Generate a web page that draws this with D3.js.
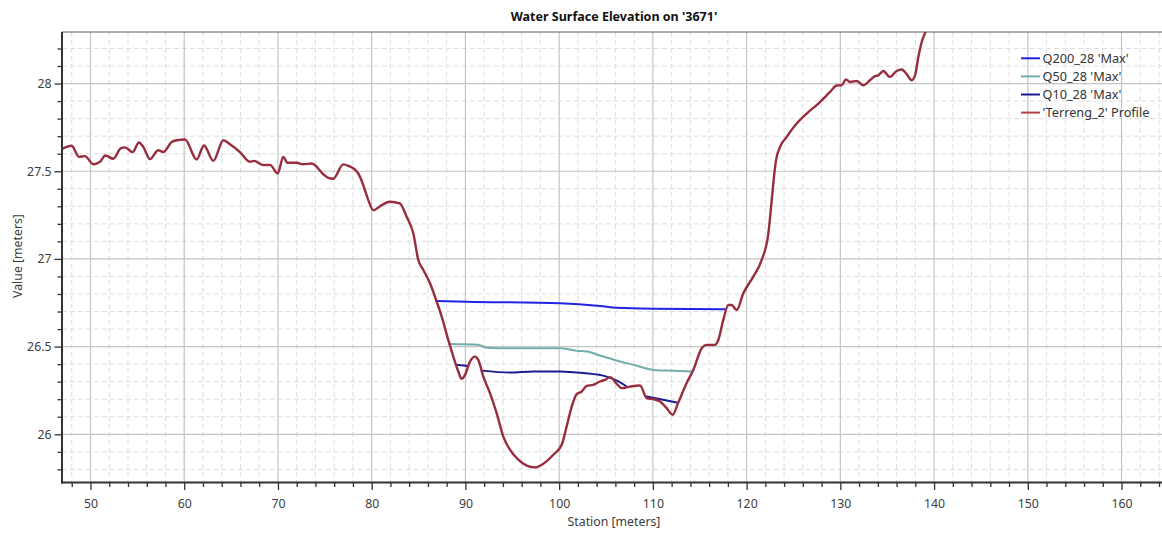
<!DOCTYPE html>
<html>
<head>
<meta charset="utf-8">
<script src="https://cdn.jsdelivr.net/npm/d3@7"></script>
<style>
  html, body { margin: 0; padding: 0; background: #ffffff; }
  svg { display: block; }
  text { font-family: "Noto Sans", "Open Sans", "DejaVu Sans", sans-serif; }
</style>
</head>
<body>
<div id="chart"></div>
<script>
// Cross-section 3671: ground profile and maximum water surface for three flows
const chartTitle = "Water Surface Elevation on '3671'";
const xLabel = "Station [meters]";
const yLabel = "Value [meters]";

const seriesNames = ["Q200_28 'Max'", "Q50_28 'Max'", "Q10_28 'Max'", "'Terreng_2' Profile"];
const seriesColors = ["#2323e6", "#72aeaa", "#1b1b92", "#972d3e"];
const legendColors = ["#2323e6", "#72aeaa", "#1b1b92", "#b5423f"];

const xTickValues = [50, 60, 70, 80, 90, 100, 110, 120, 130, 140, 150, 160];
const yTickValues = [26, 26.5, 27, 27.5, 28];

// Station / elevation pairs of the ground profile
const terrain = [
  [46.93, 27.626], [47.99, 27.645], [48.77, 27.582], [49.41, 27.586], [50.30, 27.540],
  [51.01, 27.554], [51.58, 27.590], [52.43, 27.571], [53.22, 27.630], [53.68, 27.636],
  [54.50, 27.609], [55.17, 27.664], [55.63, 27.639], [56.35, 27.569], [57.23, 27.620],
  [57.77, 27.610], [58.66, 27.667], [59.20, 27.677], [60.08, 27.681], [61.33, 27.567],
  [62.11, 27.647], [63.10, 27.559], [64.17, 27.677], [64.88, 27.654], [65.95, 27.609],
  [67.01, 27.554], [67.44, 27.559], [68.44, 27.535], [69.15, 27.536], [69.97, 27.487],
  [70.57, 27.582], [71.00, 27.548], [72.00, 27.548], [72.70, 27.540], [73.60, 27.544],
  [74.84, 27.483], [75.37, 27.462], [75.90, 27.457], [76.97, 27.539], [77.50, 27.531],
  [78.57, 27.487], [79.10, 27.421], [79.64, 27.335], [80.17, 27.278], [81.07, 27.307],
  [81.95, 27.326], [83.00, 27.317], [83.73, 27.240], [84.44, 27.146], [84.97, 26.994],
  [85.51, 26.937], [86.22, 26.861], [86.94, 26.756], [87.47, 26.671], [88.17, 26.538],
  [88.71, 26.443], [89.24, 26.358], [89.60, 26.316], [89.96, 26.339], [90.49, 26.415],
  [91.02, 26.443], [91.37, 26.424], [91.91, 26.329], [92.62, 26.235], [93.33, 26.121],
  [94.04, 25.987], [94.75, 25.912], [95.64, 25.855], [96.54, 25.821], [97.42, 25.811],
  [98.31, 25.832], [99.38, 25.883], [100.27, 25.940], [100.80, 26.044], [101.34, 26.158],
  [101.87, 26.229], [102.41, 26.244], [102.94, 26.276], [103.65, 26.282], [104.36, 26.301],
  [104.89, 26.310], [105.43, 26.326], [106.14, 26.288], [106.68, 26.263], [107.56, 26.272],
  [108.63, 26.278], [109.34, 26.206], [110.05, 26.200], [110.76, 26.187], [111.47, 26.149],
  [112.11, 26.111], [112.71, 26.181], [113.60, 26.292], [114.31, 26.367], [115.21, 26.491],
  [115.74, 26.510], [116.62, 26.510], [116.98, 26.538], [117.51, 26.652], [118.05, 26.737],
  [118.40, 26.737], [118.94, 26.709], [119.65, 26.804], [120.71, 26.899], [121.61, 26.994],
  [122.32, 27.146], [122.68, 27.335], [122.92, 27.468], [123.14, 27.563], [123.57, 27.639],
  [124.28, 27.696], [125.34, 27.772], [126.41, 27.829], [127.65, 27.886], [128.90, 27.952],
  [129.61, 27.989], [130.14, 27.990], [130.60, 28.024], [131.03, 28.009], [131.75, 28.015],
  [132.45, 27.990], [133.16, 28.019], [133.70, 28.042], [134.05, 28.047], [134.58, 28.072],
  [135.30, 28.038], [136.01, 28.072], [136.55, 28.080], [137.08, 28.053], [137.61, 28.019],
  [137.97, 28.047], [138.32, 28.151], [138.68, 28.237], [139.14, 28.300]
];

// Water surface lines (null elevation = dry gap in the wet section)
const q200 = [
  [86.86, 26.760], [90.14, 26.756], [100.09, 26.747], [104.36, 26.732],
  [106.14, 26.722], [110.05, 26.716], [117.72, 26.713]
];
const q50 = [
  [88.28, 26.515], [91.37, 26.510], [92.27, 26.494], [94.75, 26.491], [100.09, 26.491],
  [101.87, 26.476], [102.94, 26.472], [104.36, 26.449], [106.50, 26.415], [107.92, 26.396],
  [110.05, 26.367], [112.18, 26.362], [114.14, 26.358]
];
const q10 = [
  [88.99, 26.396], [90.31, 26.390], [91.0, null],
  [91.74, 26.363], [94.75, 26.352], [97.24, 26.358], [100.09, 26.358], [102.58, 26.349],
  [105.07, 26.329], [106.32, 26.301], [107.20, 26.272], [108.3, null],
  [109.34, 26.215], [112.54, 26.181]
];

const W = 1162, H = 533;
const plot = { left: 62, right: 1164, top: 32, bottom: 482.5 };

const x = d3.scaleLinear().domain([46.96, 164.53]).range([plot.left, plot.right]);
const y = d3.scaleLinear().domain([25.725, 28.294]).range([plot.bottom, plot.top]);

const svg = d3.select("#chart").append("svg")
  .attr("width", W).attr("height", H);

svg.append("defs").append("clipPath").attr("id", "plotClip")
  .append("rect")
  .attr("x", plot.left).attr("y", plot.top)
  .attr("width", plot.right - plot.left).attr("height", plot.bottom - plot.top);

// Grid: dashed minor lines, solid major lines
const xMinor = d3.range(48, 165, 2).filter(v => v % 10 !== 0);
const yMinor = d3.range(258, 283, 1).map(v => v / 10).filter(v => Math.abs(v * 2 - Math.round(v * 2)) > 1e-6);

const grid = svg.append("g").attr("clip-path", "url(#plotClip)");
grid.selectAll("line.xminor").data(xMinor).join("line")
  .attr("x1", d => x(d)).attr("x2", d => x(d))
  .attr("y1", plot.top).attr("y2", plot.bottom)
  .attr("stroke", "#dedede").attr("stroke-width", 1).attr("stroke-dasharray", "5,3");
grid.selectAll("line.yminor").data(yMinor).join("line")
  .attr("x1", plot.left).attr("x2", plot.right)
  .attr("y1", d => y(d)).attr("y2", d => y(d))
  .attr("stroke", "#dedede").attr("stroke-width", 1).attr("stroke-dasharray", "5,3");
grid.selectAll("line.xmajor").data(xTickValues).join("line")
  .attr("x1", d => x(d)).attr("x2", d => x(d))
  .attr("y1", plot.top).attr("y2", plot.bottom)
  .attr("stroke", "#c4c4c4").attr("stroke-width", 1.2);
grid.selectAll("line.ymajor").data(yTickValues).join("line")
  .attr("x1", plot.left).attr("x2", plot.right)
  .attr("y1", d => y(d)).attr("y2", d => y(d))
  .attr("stroke", "#c4c4c4").attr("stroke-width", 1.2);

// Data lines
const line = d3.line()
  .defined(d => d[1] !== null)
  .x(d => x(d[0])).y(d => y(d[1]))
  .curve(d3.curveMonotoneX);

const lines = svg.append("g").attr("clip-path", "url(#plotClip)");
[q200, q50, q10].forEach((data, i) => {
  lines.append("path").datum(data)
    .attr("fill", "none").attr("stroke", seriesColors[i])
    .attr("stroke-width", 2).attr("stroke-linejoin", "round").attr("stroke-linecap", "round")
    .attr("d", line);
});
lines.append("path").datum(terrain)
  .attr("fill", "none").attr("stroke", seriesColors[3])
  .attr("stroke-width", 2.4).attr("stroke-linejoin", "round").attr("stroke-linecap", "round")
  .attr("d", line);

// Frame
svg.append("line")
  .attr("x1", plot.left).attr("x2", W).attr("y1", plot.top).attr("y2", plot.top)
  .attr("stroke", "#5a5a5a").attr("stroke-width", 1);

// Axes
const xAxisG = svg.append("g").attr("transform", `translate(0,${plot.bottom})`);
xAxisG.call(d3.axisBottom(x).tickValues(xMinor).tickSize(4.5).tickFormat(""));
xAxisG.call(g => g.select(".domain").remove());
const xMajorG = svg.append("g").attr("transform", `translate(0,${plot.bottom})`)
  .call(d3.axisBottom(x).tickValues(xTickValues).tickSize(7.5).tickPadding(9).tickFormat(d3.format("d")));
xMajorG.select(".domain").remove();
[xAxisG, xMajorG].forEach(g => g.selectAll(".tick line").attr("stroke", "#333").attr("stroke-width", 1.3));
xMajorG.selectAll(".tick text")
  .attr("fill", "#3c3c3c").style("font-size", "12.3px")
  .style("font-family", "'Noto Sans', 'Open Sans', sans-serif");

const yAxisG = svg.append("g").attr("transform", `translate(${plot.left},0)`);
yAxisG.call(d3.axisLeft(y).tickValues(yMinor.filter(v => v < 28.29)).tickSize(4.5).tickFormat(""));
yAxisG.select(".domain").remove();
const yMajorG = svg.append("g").attr("transform", `translate(${plot.left},0)`)
  .call(d3.axisLeft(y).tickValues(yTickValues).tickSize(7.5).tickPadding(3).tickFormat(d => d3.format("")(d)));
yMajorG.select(".domain").remove();
[yAxisG, yMajorG].forEach(g => g.selectAll(".tick line").attr("stroke", "#333").attr("stroke-width", 1.3));
yMajorG.selectAll(".tick text")
  .attr("fill", "#3c3c3c").style("font-size", "12.3px")
  .style("font-family", "'Noto Sans', 'Open Sans', sans-serif");

svg.append("line")
  .attr("x1", plot.left).attr("x2", plot.left).attr("y1", plot.top).attr("y2", plot.bottom + 1)
  .attr("stroke", "#333").attr("stroke-width", 2);
svg.append("line")
  .attr("x1", plot.left - 1).attr("x2", W).attr("y1", plot.bottom).attr("y2", plot.bottom)
  .attr("stroke", "#333").attr("stroke-width", 2);

// Titles
svg.append("text")
  .attr("x", 614).attr("y", 20.5).attr("text-anchor", "middle")
  .style("font-size", "12.5px").style("font-weight", "bold").attr("fill", "#111")
  .text(chartTitle);
svg.append("text")
  .attr("x", 614).attr("y", 526).attr("text-anchor", "middle")
  .style("font-size", "12.3px").attr("fill", "#3c3c3c")
  .text(xLabel);
svg.append("text")
  .attr("transform", "translate(22,256) rotate(-90)").attr("text-anchor", "middle")
  .style("font-size", "12.3px").attr("fill", "#3c3c3c")
  .text(yLabel);

// Legend
const legend = svg.append("g").attr("transform", "translate(1021,58.3)");
seriesNames.forEach((name, i) => {
  const row = legend.append("g").attr("transform", `translate(0,${i * 18.1})`);
  row.append("line").attr("x1", 0).attr("x2", 19).attr("y1", 0).attr("y2", 0)
    .attr("stroke", legendColors[i]).attr("stroke-width", 2);
  row.append("text").attr("x", 21.5).attr("y", 4.4)
    .style("font-size", "12.7px").attr("fill", "#333")
    .text(name);
});
</script>
</body>
</html>
